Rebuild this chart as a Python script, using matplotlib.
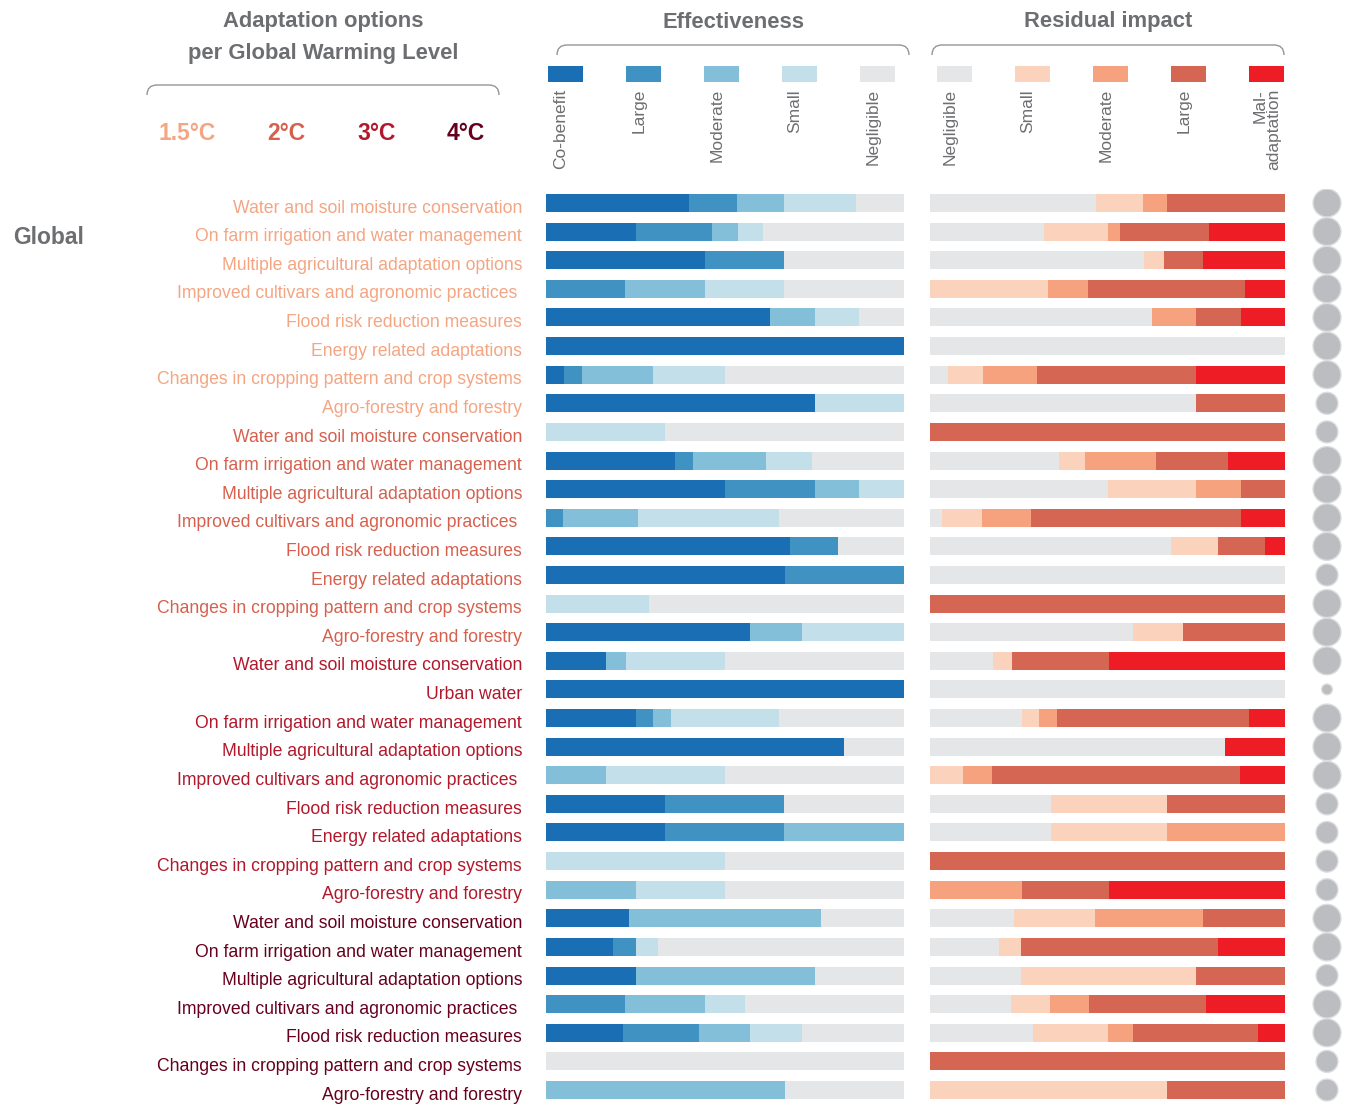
import matplotlib
matplotlib.use("Agg")
import matplotlib.pyplot as plt
from matplotlib.path import Path
from matplotlib.patches import PathPatch, Rectangle
from matplotlib.transforms import blended_transform_factory
import numpy as np

plt.rcParams['font.family'] = ['Liberation Sans Narrow', 'Liberation Sans', 'DejaVu Sans']

W, H = 1349, 1110
GREY_TXT = '#6d6e71'

# options listed per global warming level
options = [
    'Water and soil moisture conservation', 'On farm irrigation and water management',
    'Multiple agricultural adaptation options', 'Improved cultivars and agronomic practices ',
    'Flood risk reduction measures', 'Energy related adaptations',
    'Changes in cropping pattern and crop systems', 'Agro-forestry and forestry',
    'Water and soil moisture conservation', 'On farm irrigation and water management',
    'Multiple agricultural adaptation options', 'Improved cultivars and agronomic practices ',
    'Flood risk reduction measures', 'Energy related adaptations',
    'Changes in cropping pattern and crop systems', 'Agro-forestry and forestry',
    'Water and soil moisture conservation', 'Urban water', 'On farm irrigation and water management',
    'Multiple agricultural adaptation options', 'Improved cultivars and agronomic practices ',
    'Flood risk reduction measures', 'Energy related adaptations',
    'Changes in cropping pattern and crop systems', 'Agro-forestry and forestry',
    'Water and soil moisture conservation', 'On farm irrigation and water management',
    'Multiple agricultural adaptation options', 'Improved cultivars and agronomic practices ',
    'Flood risk reduction measures', 'Changes in cropping pattern and crop systems',
    'Agro-forestry and forestry',
]
gwl = [0] * 8 + [1] * 8 + [2] * 9 + [3] * 7
gwl_names = ['1.5°C', '2°C', '3°C', '4°C']
gwl_colors = ['#f4a582', '#d6604d', '#b2182b', '#67001f']

# effectiveness shares (%)
eff_cobenefit = [40, 25, 44.4, 0, 62.5, 100, 5, 75,
                 0, 35.9, 50, 0, 68.2, 66.7, 0, 57.1,
                 16.7, 100, 25, 83.3, 0, 33.3, 33.3, 0, 0,
                 23.1, 18.75, 25, 0, 21.4, 0, 0]
eff_large = [13.3, 21.4, 22.2, 22.2, 0, 0, 5, 0,
             0, 5.1, 25, 4.7, 13.4, 33.3, 0, 0,
             0, 0, 5, 0, 0, 33.3, 33.3, 0, 0,
             0, 6.25, 0, 22.2, 21.4, 0, 0]
eff_moderate = [13.3, 7.1, 0, 22.2, 12.5, 0, 20, 0,
                0, 20.5, 12.5, 21, 0, 0, 0, 14.3,
                5.6, 0, 5, 0, 16.7, 0, 33.3, 0, 25,
                53.8, 0, 50, 22.2, 14.3, 0, 66.7]
eff_small = [20, 7.1, 0, 22.2, 12.5, 0, 20, 25,
             33.3, 12.8, 12.5, 39.4, 0, 0, 28.8, 28.6,
             27.8, 0, 30, 0, 33.3, 0, 0, 50, 25,
             0, 6.25, 0, 11.1, 14.3, 0, 0]
eff_negligible = [13.3, 39.3, 33.3, 33.3, 12.5, 0, 50, 0,
                  66.7, 25.6, 0, 34.9, 18.4, 0, 71.2, 0,
                  50, 0, 35, 16.7, 50, 33.3, 0, 50, 50,
                  23.1, 68.75, 25, 44.4, 28.6, 100, 33.3]

# residual impact shares (%)
res_negligible = [46.7, 32.1, 60.3, 0, 62.5, 100, 5, 75,
                  0, 36.3, 50, 3.4, 67.9, 100, 0, 57.1,
                  17.7, 100, 25.9, 83.1, 0, 34.1, 34.1, 0, 0,
                  23.7, 19.4, 25.6, 22.8, 29, 0, 0]
res_small = [13.3, 17.9, 5.6, 33.3, 0, 0, 10, 0,
             0, 7.3, 25, 11.3, 13.2, 0, 0, 14.3,
             5.4, 0, 4.8, 0, 9.3, 32.7, 32.7, 0, 0,
             22.8, 6.2, 49.3, 11, 21.1, 0, 66.8]
res_moderate = [6.7, 3.6, 0, 11.1, 12.5, 0, 15, 0,
                0, 20, 12.5, 13.8, 0, 0, 0, 0,
                0, 0, 5.1, 0, 8.2, 0, 33.2, 0, 25.9,
                30.4, 0, 0, 11, 7, 0, 0]
res_large = [33.3, 25, 11, 44.4, 12.5, 0, 45, 25,
             100, 20.3, 12.5, 59.2, 13.2, 0, 100, 28.6,
             27.3, 0, 54.1, 0, 69.9, 33.2, 0, 100, 24.5,
             23.1, 55.5, 25.1, 33, 35.2, 100, 33.2]
res_maladaptation = [0, 21.4, 23.1, 11.1, 12.5, 0, 25, 0,
                     0, 16.1, 0, 12.3, 5.7, 0, 0, 0,
                     49.6, 0, 10.1, 16.9, 12.6, 0, 0, 0, 49.6,
                     0, 18.9, 0, 22.2, 7.7, 0, 0]

# size class of the evidence-base circles (3 = large, 2 = medium, 1 = small)
evidence_class = [3, 3, 3, 3, 3, 3, 3, 2,
                  2, 3, 3, 3, 3, 2, 3, 3,
                  3, 1, 3, 3, 3, 2, 2, 2, 2,
                  3, 3, 2, 3, 3, 2, 2]

eff_names = ['Co-benefit', 'Large', 'Moderate', 'Small', 'Negligible']
eff_colors = ['#1a6eb4', '#3f92c2', '#83bfd9', '#c3dfea', '#e5e6e8']
res_names = ['Negligible', 'Small', 'Moderate', 'Large', 'Mal-\nadaptation']
res_colors = ['#e5e6e8', '#fbd3bd', '#f6a27f', '#d56653', '#ee1d25']

n = len(options)
y = np.arange(n)
row_top, row_bot = 203, 1090
step = (row_bot - row_top) / (n - 1)
ax_top = row_top - step / 2
ax_h = (row_bot - row_top) + step


def px_axes(x0, x1):
    return fig.add_axes([x0 / W, 1 - (ax_top + ax_h) / H, (x1 - x0) / W, ax_h / H])


fig = plt.figure(figsize=(W / 100, H / 100), dpi=100)

# overlay for headings, legend keys and brackets (pixel coordinates)
deco = fig.add_axes([0, 0, 1, 1])
deco.set_xlim(0, W)
deco.set_ylim(H, 0)
deco.axis('off')

ax_eff = px_axes(546, 904)
ax_res = px_axes(930, 1285)
ax_dot = px_axes(1305, 1349)

for ax, series, colors in [
    (ax_eff, [eff_cobenefit, eff_large, eff_moderate, eff_small, eff_negligible], eff_colors),
    (ax_res, [res_negligible, res_small, res_moderate, res_large, res_maladaptation], res_colors),
]:
    left = np.zeros(n)
    for vals, c in zip(series, colors):
        vals = np.array(vals, dtype=float)
        ax.barh(y, vals, left=left, height=0.63, color=c, linewidth=0)
        left += vals
    ax.set_xlim(0, 100)
    ax.set_ylim(n - 0.5, -0.5)
    ax.axis('off')

dot_area = {1: 60, 2: 250, 3: 405}
ax_dot.scatter(np.full(n, 0.5), y, s=[dot_area[c] for c in evidence_class],
               color='#bcbdc0', edgecolors='#dcdddf', linewidths=1)
ax_dot.set_xlim(0, 1)
ax_dot.set_ylim(n - 0.5, -0.5)
ax_dot.axis('off')

# option labels, coloured by warming level
tr = blended_transform_factory(fig.transFigure, ax_eff.transData)
for i, (lab, g) in enumerate(zip(options, gwl)):
    fig.text(522 / W, i + 0.18, lab, transform=tr, ha='right', va='center',
             fontsize=12.7, color=gwl_colors[g])

deco.text(13, 237, 'Global', ha='left', va='center', fontsize=16.5,
          fontweight='bold', color=GREY_TXT)

# headings
head = dict(ha='center', va='center', fontsize=15.8, fontweight='bold', color=GREY_TXT)
deco.text(323, 22, 'Adaptation options', **head)
deco.text(323, 54, 'per Global Warming Level', **head)
deco.text(733, 22, 'Effectiveness', **head)
deco.text(1108, 22, 'Residual impact', **head)


def bracket(x0, x1, yb, r=10):
    verts = [(x0, yb + r), (x0, yb), (x0 + r, yb), (x1 - r, yb), (x1, yb), (x1, yb + r)]
    codes = [Path.MOVETO, Path.CURVE3, Path.CURVE3, Path.LINETO, Path.CURVE3, Path.CURVE3]
    deco.add_patch(PathPatch(Path(verts, codes), fill=False, edgecolor='#939598', lw=1))


bracket(147, 499, 85)
bracket(557, 909, 45)
bracket(932, 1284, 45)

for name, c, xc in zip(gwl_names, gwl_colors, [187, 286, 377, 466]):
    deco.text(xc, 134, name, ha='center', va='center', fontsize=16.5,
              fontweight='bold', color=c)

# legend keys
for names, colors, x0 in [(eff_names, eff_colors, 548), (res_names, res_colors, 937)]:
    for k, (name, c) in enumerate(zip(names, colors)):
        xl = x0 + k * 78
        deco.add_patch(Rectangle((xl, 66), 35, 16, color=c, lw=0))
        xc = xl + 13 if '\n' not in name else xl + 18
        deco.text(xc, 89, name, rotation=90, ha='center', va='top', fontsize=12.5,
                  color=GREY_TXT, linespacing=0.95, multialignment='right')

fig.savefig('out.png', dpi=100, facecolor='white')
